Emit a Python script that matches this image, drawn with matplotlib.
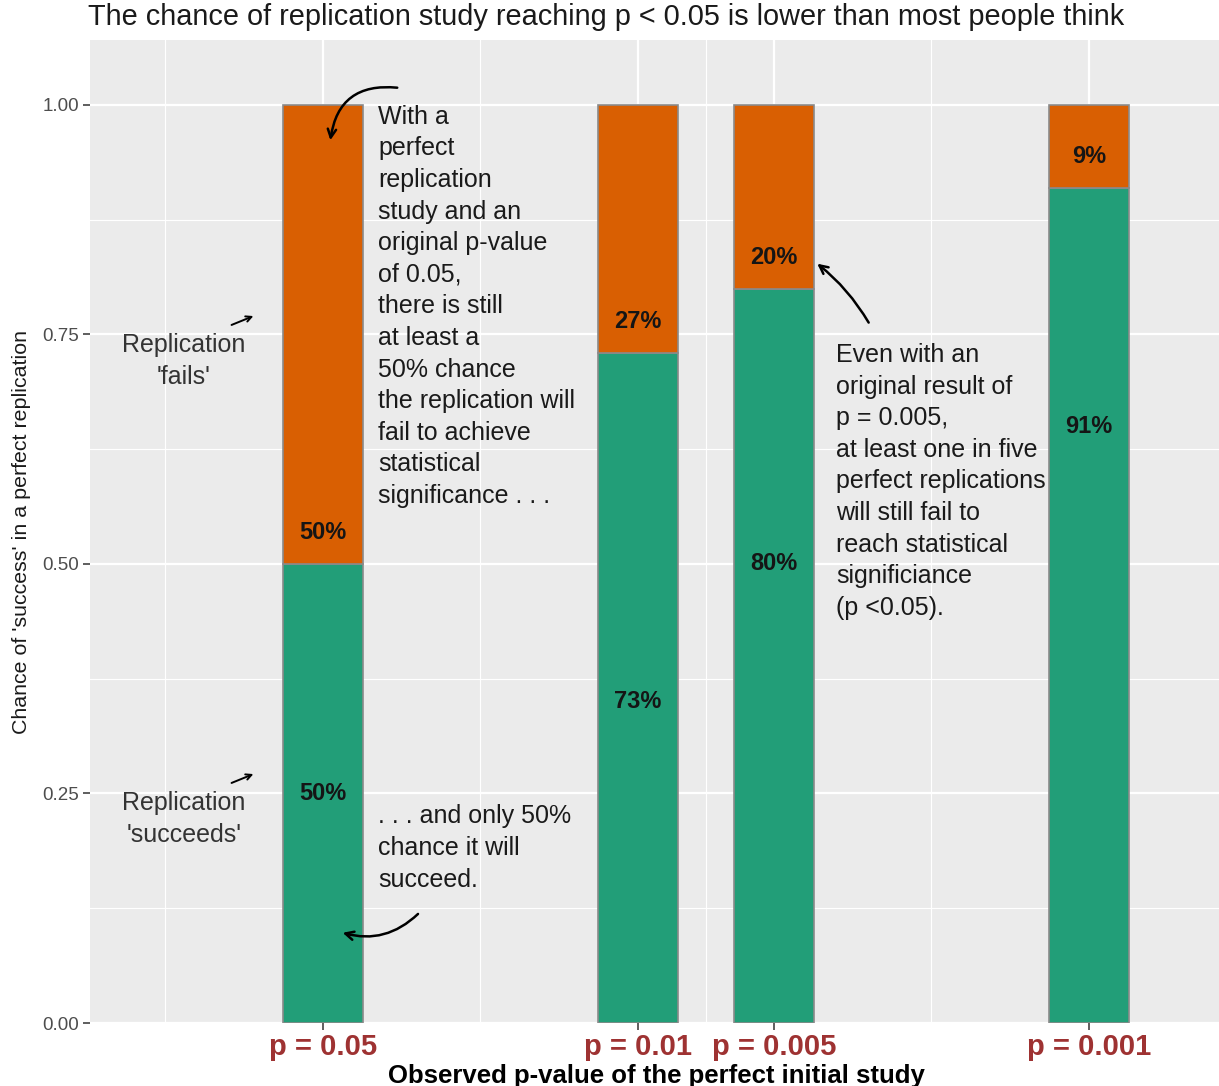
import numpy as np
import matplotlib
matplotlib.use("Agg")
import matplotlib.pyplot as plt
from matplotlib.ticker import MultipleLocator, FixedLocator, FormatStrFormatter

plt.rcParams['font.family'] = ['Liberation Sans', 'DejaVu Sans']

# data
p_values = [0.05, 0.01, 0.005, 0.001]
p_labels = ['p = 0.05', 'p = 0.01', 'p = 0.005', 'p = 0.001']
success = [0.50, 0.73, 0.80, 0.91]
fail = [0.50, 0.27, 0.20, 0.09]
success_txt = ['50%', '73%', '80%', '91%']
fail_txt = ['50%', '27%', '20%', '9%']
# label heights were placed by hand in the original
success_label_y = [0.25, 0.35, 0.50, 0.65]
y_breaks = [0.0, 0.25, 0.5, 0.75, 1.0]

green = '#229E78'
orange = '#D95F02'
edge = '#8A8A8A'

x = -np.log10(p_values)
bar_w = 0.177

fig = plt.figure(figsize=(12.19, 10.86), dpi=100)
ax = fig.add_axes([90/1219, 1 - 1023/1086, 1129/1219, 983/1086])
ax.set_facecolor('#EBEBEB')

ax.bar(x, success, width=bar_w, color=green, edgecolor=edge, linewidth=1.2, zorder=2)
ax.bar(x, fail, width=bar_w, bottom=success, color=orange, edgecolor=edge, linewidth=1.2, zorder=2)

for xi, s, st, ft, ly in zip(x, success, success_txt, fail_txt, success_label_y):
    ax.text(xi, ly, st, ha='center', va='center', fontsize=17, fontweight='bold', color='#151515', zorder=3)
    ax.text(xi, s + 0.034, ft, ha='center', va='center', fontsize=17, fontweight='bold', color='#151515', zorder=3)

ax.set_xlim(0.785, 3.288)
ax.set_ylim(0, 1.0708)

# grid like ggplot
ax.xaxis.set_major_locator(FixedLocator(x))
mids = list((x[:-1] + x[1:]) / 2) + [x[0] - (x[1] - x[0]) / 2]
ax.xaxis.set_minor_locator(FixedLocator(mids))
ax.yaxis.set_major_locator(FixedLocator(y_breaks))
ax.yaxis.set_major_formatter(FormatStrFormatter('%.2f'))
ax.yaxis.set_minor_locator(MultipleLocator(0.125))
ax.grid(which='major', color='white', linewidth=1.6, zorder=0)
ax.grid(which='minor', color='white', linewidth=0.8, zorder=0)
ax.set_axisbelow(True)
for s in ax.spines.values():
    s.set_visible(False)

ax.set_xticklabels(p_labels, fontsize=21, fontweight='bold', color='#9E3232')
ax.tick_params(axis='y', which='major', labelsize=13.5, labelcolor='#4D4D4D', color='#333333',
               length=5, width=1.1, pad=3)
ax.tick_params(axis='x', which='major', color='#333333', length=5, width=1.1, pad=2)
ax.tick_params(which='minor', length=0)

ax.set_xlabel('Observed p-value of the perfect initial study', fontsize=18.5, fontweight='bold')
ax.xaxis.label.set_va('center')
ax.xaxis.set_label_coords(0.502, -0.0535)
ax.set_ylabel("Chance of 'success' in a perfect replication", fontsize=15.4, color='#1A1A1A')
ax.yaxis.set_label_coords(-0.052, 0.5)

fig.text(88/1219, 1 - 17/1086,
         'The chance of replication study reaching p < 0.05 is lower than most people think',
         fontsize=20.8, ha='left', va='center', color='#1A1A1A')

def to_data(px, py):
    return ((px + 264) / 451, (1023 - py) / 918)

txt_kw = dict(fontsize=18, color='#1A1A1A', linespacing=1.40, zorder=4)

ax.text(*to_data(378, 306.5),
        'With a\nperfect\nreplication\nstudy and an\noriginal p-value\nof 0.05,\nthere is still\n'
        'at least a\n50% chance\nthe replication will\nfail to achieve\nstatistical\nsignificance . . .',
        ha='left', va='center', **txt_kw)
ax.text(*to_data(378, 848), '. . . and only 50%\nchance it will\nsucceed.',
        ha='left', va='center', **txt_kw)
ax.text(*to_data(836, 481.5),
        'Even with an\noriginal result of\np = 0.005,\nat least one in five\nperfect replications\n'
        'will still fail to\nreach statistical\nsignificiance\n(p <0.05).',
        ha='left', va='center', **txt_kw)
ax.text(*to_data(184, 361), "Replication\n'fails'", ha='center', va='center',
        fontsize=18, color='#333333', linespacing=1.40)
ax.text(*to_data(184, 819), "Replication\n'succeeds'", ha='center', va='center',
        fontsize=18, color='#333333', linespacing=1.40)

arr = dict(arrowstyle='->,head_length=0.6,head_width=0.3', color='black', lw=1.8)
ax.annotate('', xy=to_data(330, 143), xytext=to_data(400, 88),
            arrowprops=dict(connectionstyle='arc3,rad=0.5', **arr))
ax.annotate('', xy=to_data(340, 932), xytext=to_data(420, 912),
            arrowprops=dict(connectionstyle='arc3,rad=-0.3', **arr))
ax.annotate('', xy=to_data(815, 262), xytext=to_data(870, 325),
            arrowprops=dict(connectionstyle='arc3,rad=0.1', **arr))
small = dict(arrowstyle='->,head_length=0.4,head_width=0.2', color='black', lw=1.4)
ax.annotate('', xy=to_data(256, 315), xytext=to_data(229, 326), arrowprops=small)
ax.annotate('', xy=to_data(256, 773), xytext=to_data(229, 784), arrowprops=small)

fig.savefig('out.png', dpi=100)
